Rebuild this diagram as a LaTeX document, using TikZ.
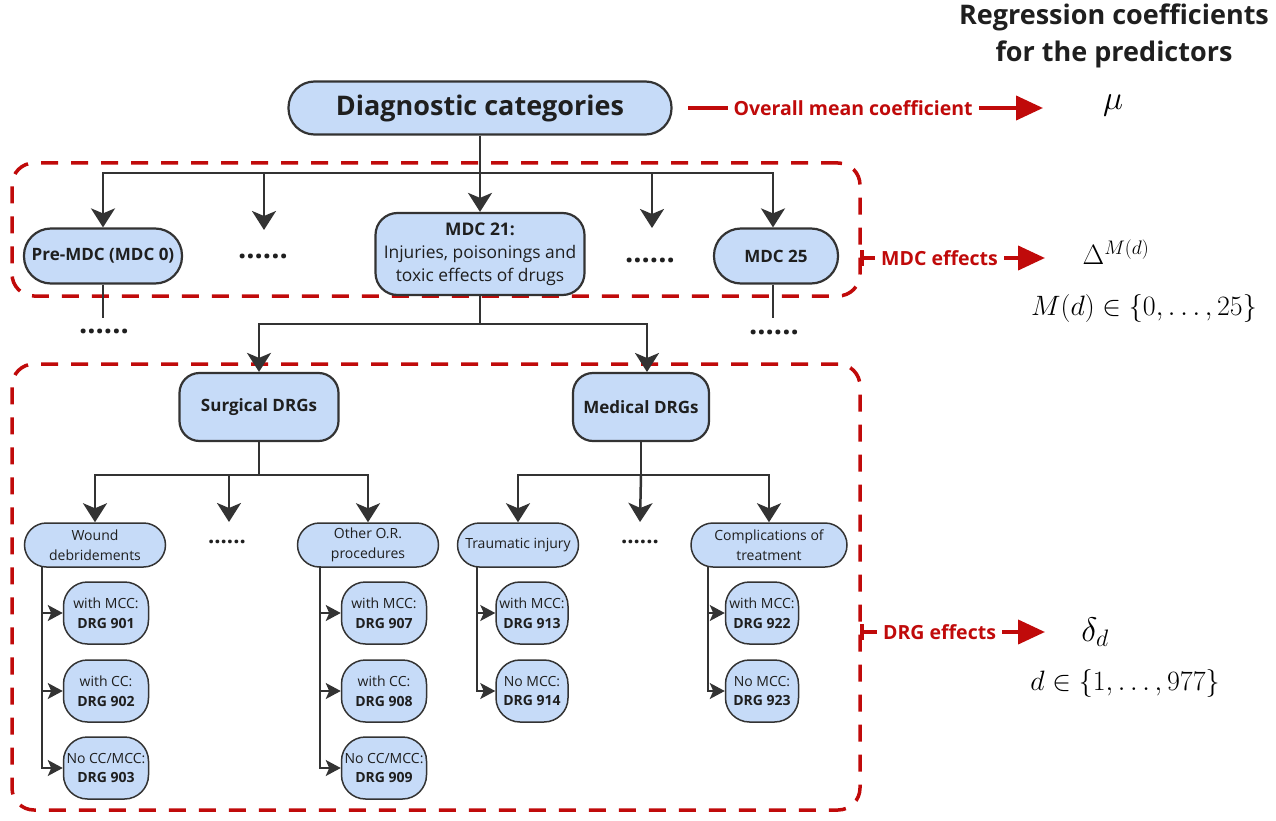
\RequirePackage{fix-cm}
\documentclass[tikz,border=0pt]{standalone}
\usepackage{fontspec}
\setmainfont{Open Sans}
\usetikzlibrary{arrows.meta}

\definecolor{boxblue}{HTML}{C6DBF8}
\definecolor{linegray}{HTML}{333333}
\definecolor{effred}{HTML}{C00A0A}
\newcommand{\fsz}[2]{\fontsize{#1}{#2}\selectfont}

\tikzset{
  box/.style={draw=linegray, fill=boxblue, line width=2.2pt, inner sep=0pt, align=center, text=black!88},
  topbox/.style={box, minimum width=383pt, minimum height=53pt, rounded corners=26pt, font=\bfseries\fsz{27}{32}},
  mdcbox/.style={box, minimum height=55pt, rounded corners=27pt, font=\fsz{17.4}{23}},
  drgbox/.style={box, minimum height=68pt, rounded corners=20pt, font=\bfseries\fsz{17}{23}},
  subbox/.style={box, line width=1.5pt, minimum height=44pt, rounded corners=22pt, font=\fsz{14}{20}},
  leafbox/.style={box, line width=1.5pt, minimum height=62pt, rounded corners=24pt, font=\fsz{14}{19.5}},
  dotsA/.style={font=\bfseries\fsz{29}{30}, inner sep=0pt, text=black!88},
  dotsB/.style={font=\bfseries\fsz{22}{24}, inner sep=0pt, text=black!88},
  trunk/.style={draw=linegray, line width=2.5pt},
  branch/.style={draw=linegray, line width=1.5pt},
  arrA/.style={-{Stealth[length=19pt,width=24pt,inset=5pt]}},
  arrB/.style={-{Stealth[length=15pt,width=16pt,inset=3.5pt]}},
  effbox/.style={draw=effred, line width=3.5pt, dash pattern=on 17pt off 13pt, rounded corners=22pt, inner sep=0pt},
  effarr/.style={draw=effred, line width=4pt, -{Triangle[length=27pt,width=24pt]}},
  effbar/.style={{Bar[width=16pt]}-{Triangle[length=27pt,width=24pt]}},
  efflabel/.style={fill=white, text=effred, font=\bfseries\fsz{19.5}{22}, inner sep=6pt},
  mathlbl/.style={font=\fsz{28}{32}, inner sep=0pt},
  greeklbl/.style={font=\fsz{34}{38}, inner sep=0pt},
}

\begin{document}
\begin{tikzpicture}[x=1pt,y=-1pt]
\useasboundingbox (0,0) rectangle (1276,821);

% dashed groups
\node[effbox, minimum width=848pt, minimum height=133pt] (mdcfx) at (436,229.5) {};
\node[effbox, minimum width=848pt, minimum height=446pt] (drgfx) at (436,587) {};

% tree nodes
\node[topbox] (diag) at (480,108) {Diagnostic categories};
\node[mdcbox, minimum width=158pt, font=\bfseries\fsz{17}{23}] (pre) at (103,256) {Pre-MDC (MDC 0)};
\node[mdcbox, minimum width=209pt, minimum height=82pt, rounded corners=22pt] (mdc21) at (480,254) {\textbf{MDC 21:}\\Injuries, poisonings and\\toxic effects of drugs};
\node[mdcbox, minimum width=124pt, font=\bfseries\fsz{17}{23}] (mdc25) at (776,256) {MDC 25};
\node[dotsA] (dmdcA) at (263,256) {......};
\node[dotsA] (dmdcB) at (650,260) {......};
\node[dotsA] (dpre) at (104,331) {......};
\node[dotsA] (dmdc25) at (774,332) {......};

\node[drgbox, minimum width=159pt] (surg) at (259,407) {Surgical DRGs};
\node[drgbox, minimum width=136pt] (med) at (641,407) {Medical DRGs};

\node[subbox, minimum width=141pt] (wound) at (95,545) {Wound\\debridements};
\node[subbox, minimum width=141pt] (other) at (368,545) {Other O.R.\\procedures};
\node[subbox, minimum width=121pt] (traum) at (518,545) {Traumatic injury};
\node[subbox, minimum width=156pt] (compl) at (769,545) {Complications of\\treatment};
\node[dotsB] (dsurg) at (227,542) {......};
\node[dotsB] (dmed) at (640,542) {......};

\node[leafbox, minimum width=85pt] (w1) at (106,613) {with MCC:\\\textbf{DRG 901}};
\node[leafbox, minimum width=85pt] (w2) at (106,691) {with CC:\\\textbf{DRG 902}};
\node[leafbox, minimum width=85pt] (w3) at (106,768) {No CC/MCC:\\\textbf{DRG 903}};
\node[leafbox, minimum width=85pt] (o1) at (384,613) {with MCC:\\\textbf{DRG 907}};
\node[leafbox, minimum width=85pt] (o2) at (384,691) {with CC:\\\textbf{DRG 908}};
\node[leafbox, minimum width=85pt] (o3) at (384,768) {No CC/MCC:\\\textbf{DRG 909}};
\node[leafbox, minimum width=72pt] (t1) at (532,613) {with MCC:\\\textbf{DRG 913}};
\node[leafbox, minimum width=72pt] (t2) at (532,691) {No MCC:\\\textbf{DRG 914}};
\node[leafbox, minimum width=73pt] (c1) at (762,613) {with MCC:\\\textbf{DRG 922}};
\node[leafbox, minimum width=73pt] (c2) at (762,691) {No MCC:\\\textbf{DRG 923}};

% junctions and free ends
\coordinate (jmdc) at (480,173);
\coordinate (amdcA) at (264,230);
\coordinate (amdcB) at (652,228);
\coordinate (preend) at (103,318);
\coordinate (mdc25end) at (773,318);
\coordinate (jdrg) at (480,324);
\coordinate (amed) at (647,372);
\coordinate (jsurg) at (259,475);
\coordinate (asurg) at (229,522);
\coordinate (jmed) at (641,475);
\coordinate (amedd) at (640,522);
\coordinate (wv) at (42,566);
\coordinate (ov) at (320,566);
\coordinate (tv) at (477,566);
\coordinate (cv) at (708,566);

% top levels
\draw[trunk] (diag) -- (jmdc);
\draw[trunk, arrA] (jmdc) -| (pre.north);
\draw[trunk, arrA] (jmdc) -| (amdcA);
\draw[trunk, arrA] (jmdc) -- (mdc21.north);
\draw[trunk, arrA] (jmdc) -| (amdcB);
\draw[trunk, arrA] (jmdc) -| ([xshift=-3pt]mdc25.north);
\draw[trunk] (pre) -- (preend);
\draw[trunk] ([xshift=-3pt]mdc25.south) -- (mdc25end);
\draw[trunk] (mdc21) -- (jdrg);
\draw[trunk, arrA] (jdrg) -| (surg.north);
\draw[trunk, arrA] (jdrg) -| (amed);

% DRG groups
\draw[trunk] (surg) -- (jsurg);
\draw[trunk, arrA] (jsurg) -| (wound.north);
\draw[trunk, arrA] (jsurg) -| (asurg);
\draw[trunk, arrA] (jsurg) -| (other.north);
\draw[trunk] (med) -- (jmed);
\draw[trunk, arrA] (jmed) -| (traum.north);
\draw[trunk, arrA] (jmed) -- (amedd);
\draw[trunk, arrA] (jmed) -| (compl.north);

% single DRGs
\foreach \leaf in {w1,w2,w3} \draw[branch, arrB] (wv) |- (\leaf.west);
\foreach \leaf in {o1,o2,o3} \draw[branch, arrB] (ov) |- (\leaf.west);
\foreach \leaf in {t1,t2} \draw[branch, arrB] (tv) |- (\leaf.west);
\foreach \leaf in {c1,c2} \draw[branch, arrB] (cv) |- (\leaf.west);

% coefficients
\node[font=\bfseries\fsz{27}{37}, align=center, text=black!88] (coef) at (1114,36) {Regression coefficients\\for the predictors};
\node[greeklbl] (mu) at (1113,105) {$\mu$};
\node[mathlbl] (Delta) at (1116,252) {$\Delta^{M(d)}$};
\node[mathlbl] (Mset) at (1144,308) {$M(d)\in\{0,\ldots,25\}$};
\node[greeklbl] (delta) at (1095,632) {$\delta_d$};
\node[mathlbl] (dset) at (1125,683) {$d\in\{1,\ldots,977\}$};

\coordinate (meanfrom) at (688,108);
\coordinate (meanto) at (1043,108);
\coordinate (mdcfrom) at (860,258);
\coordinate (mdcto) at (1045,258);
\coordinate (drgfrom) at (860,632);
\coordinate (drgto) at (1045,632);
\draw[effarr] (meanfrom) -- node[efflabel, pos=0.465] (meanlbl) {Overall mean coefficient} (meanto);
\draw[effarr, effbar] (mdcfrom) -- node[efflabel, pos=0.43] (mdclbl) {MDC effects} (mdcto);
\draw[effarr, effbar] (drgfrom) -- node[efflabel, pos=0.43] (drglbl) {DRG effects} (drgto);
\end{tikzpicture}
\end{document}
